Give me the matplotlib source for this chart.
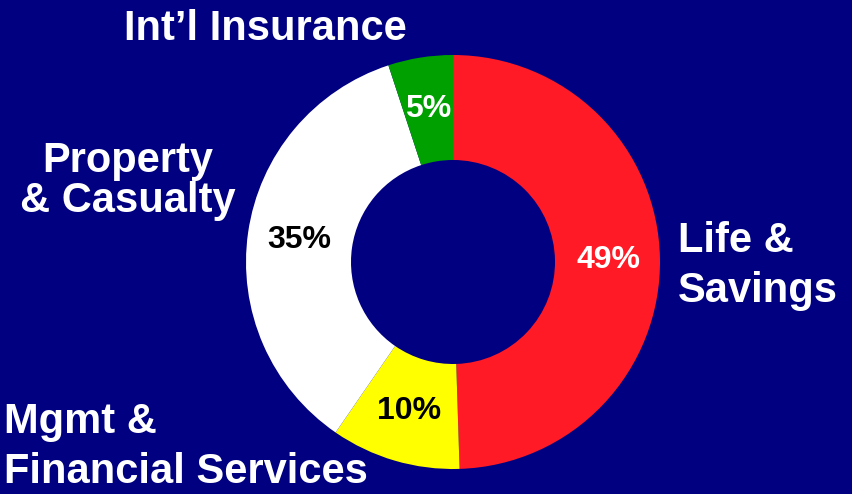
import matplotlib.pyplot as plt

# segment shares (percent), clockwise from 12 o'clock
segments = ['Life &\nSavings', 'Mgmt &\nFinancial Services', 'Property\n& Casualty', 'Int\u2019l Insurance']
shares = [49, 10, 35, 5]
colors = ['#FF1A25', '#FFFF00', '#FFFFFF', '#00A000']
pct_colors = ['white', 'black', 'black', 'white']

bg = '#000080'
total = sum(shares)

fig = plt.figure(figsize=(8.53, 4.94), dpi=100)
fig.patch.set_facecolor(bg)
ax = fig.add_axes([0, 0, 1, 1])
ax.set_facecolor(bg)

wedges, texts, autotexts = ax.pie(
    shares, colors=colors, startangle=90, counterclock=False,
    center=(453, 232), radius=207, frame=True,
    wedgeprops=dict(width=105, edgecolor='none'),
    autopct=lambda p: '{:.0f}%'.format(p * total / 100),
    pctdistance=0.75,
    textprops=dict(fontsize=23, fontweight='bold', family='Liberation Sans'))
ax.set_xlim(0, 853)
ax.set_ylim(0, 494)
ax.set_aspect('equal')
ax.axis('off')

for t, c in zip(autotexts, pct_colors):
    t.set_color(c)

lab = dict(color='white', fontsize=30, fontweight='bold', family='Liberation Sans')
ax.text(678, 228, segments[0], ha='left', va='center', linespacing=1.3, **lab)
ax.text(4, 47, segments[1], ha='left', va='center', linespacing=1.3, **lab)
ax.text(128, 313, segments[2], ha='center', va='center', linespacing=1.0, **lab)
ax.text(265, 465, segments[3], ha='center', va='center', **lab)

fig.savefig('out.png', dpi=100, facecolor=bg)
